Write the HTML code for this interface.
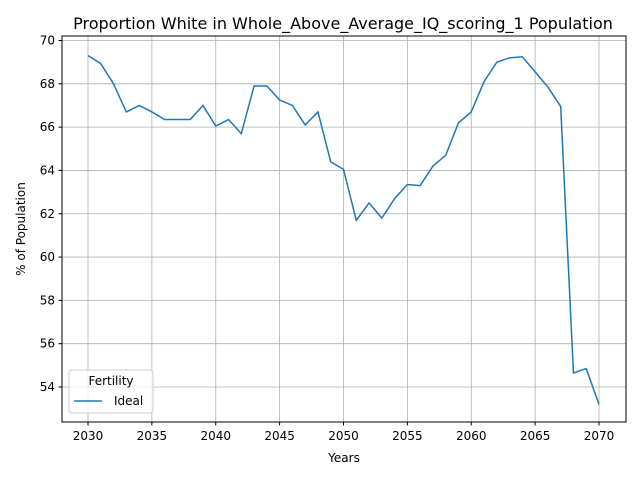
<!DOCTYPE html>
<html><head><meta charset="utf-8"><style>
body{margin:0;background:#fff;font-family:"Liberation Sans","DejaVu Sans",sans-serif;}
svg text{font-family:"DejaVu Sans","Liberation Sans",sans-serif;fill:#000;}
</style></head><body>
<svg id="chart" width="640" height="480">
<text x="343" y="29" font-size="16" text-anchor="middle">Proportion White in Whole_Above_Average_IQ_scoring_1 Population</text>
<g id="grid"></g>
<rect x="62" y="36" width="564" height="386" fill="none" stroke="#000" stroke-width="1"/>
<g id="ticks"></g>
<path id="line" fill="none" stroke="#1f77b4" stroke-width="1.5"/>
<text x="344" y="462" font-size="12" text-anchor="middle">Years</text>
<text transform="translate(25,229) rotate(-90)" font-size="12" text-anchor="middle">% of Population</text>
<g>
<rect x="69" y="370" width="84" height="43" rx="3" fill="#fff" fill-opacity="0.8" stroke="#ccc"/>
<text x="111" y="385" font-size="12" text-anchor="middle">Fertility</text>
<line x1="74" y1="401" x2="102" y2="401" stroke="#1f77b4" stroke-width="1.5"/>
<text x="114" y="405" font-size="12">Ideal</text>
</g>
</svg>
<script>
const years=[2030,2031,2032,2033,2034,2035,2036,2037,2038,2039,2040,2041,2042,2043,2044,2045,2046,2047,2048,2049,2050,2051,2052,2053,2054,2055,2056,2057,2058,2059,2060,2061,2062,2063,2064,2065,2066,2067,2068,2069,2070];
const values=[69.3,68.93,68.0,66.7,67.0,66.7,66.35,66.35,66.35,67.0,66.05,66.35,65.7,67.9,67.9,67.25,67.0,66.1,66.7,64.4,64.05,61.7,62.5,61.8,62.7,63.35,63.3,64.2,64.7,66.2,66.7,68.1,69.0,69.2,69.25,68.55,67.85,66.95,54.65,54.85,53.2];
const xTicks=[2030,2035,2040,2045,2050,2055,2060,2065,2070];
const yTicks=[54,56,58,60,62,64,66,68,70];
const NS="http://www.w3.org/2000/svg";
function xs(v){return 88+(v-2030)*(599-88)/40;}
function ys(v){return 387-(v-54)*(387-40.5)/16;}
const grid=document.getElementById('grid'),ticks=document.getElementById('ticks');
function mk(tag,attrs,parent){const e=document.createElementNS(NS,tag);for(const k in attrs)e.setAttribute(k,attrs[k]);parent.appendChild(e);return e;}
xTicks.forEach(t=>{const x=xs(t);
 const g=mk('line',{x1:x,x2:x,y1:36,y2:422,stroke:'#b0b0b0','stroke-width':0.8},grid);
 
 
 mk('line',{x1:x,x2:x,y1:422,y2:425.5,stroke:'#000'},ticks);
 const tx=mk('text',{x:x,y:440,'font-size':12,'text-anchor':'middle'},ticks);tx.textContent=t;
 
 
});
yTicks.forEach(t=>{const y=ys(t);
 const g=mk('line',{x1:62,x2:626,y1:y,y2:y,stroke:'#b0b0b0','stroke-width':0.8},grid);
 
 
 mk('line',{x1:58.5,x2:62,y1:y,y2:y,stroke:'#000'},ticks);
 const tx=mk('text',{x:55,y:y+4,'font-size':12,'text-anchor':'end'},ticks);tx.textContent=t;
 
 
});
document.getElementById('line').setAttribute('d',years.map((y,i)=>(i?'L':'M')+xs(y)+','+ys(values[i])).join(' '));
</script>
</body></html>
